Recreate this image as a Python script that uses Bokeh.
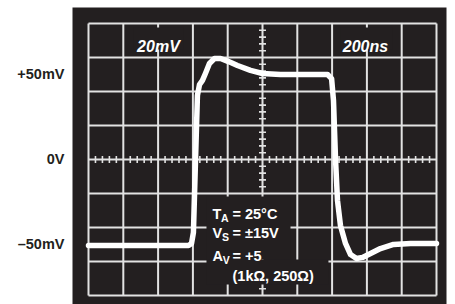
from bokeh.plotting import figure
from bokeh.models import FixedTicker
from bokeh.core.properties import value
from bokeh.embed import file_html
from bokeh.resources import INLINE
import math

# ---- data (time in ns, amplitude in mV) ----
t_ns = [0, 575, 592, 603, 615, 626, 638, 655, 672, 695, 724, 759, 805, 856,
        931, 1000, 1103, 1374, 1397, 1408, 1420, 1431, 1448, 1477, 1506, 1540,
        1575, 1621, 1678, 1753, 1851, 2000]
v_mv = [-50.6, -50.6, -49.4, -42.9, -0.6, 37.6, 44.1, 46.5, 50.6, 56.5, 59.4,
        59.4, 57.6, 55.3, 52.4, 50.6, 50.0, 50.0, 47.6, 34.7, -0.6, -24.1,
        -38.8, -49.4, -55.9, -58.2, -57.6, -55.3, -52.4, -50.0, -49.4, -49.4]

x_div = [0, 200, 400, 600, 800, 1000, 1200, 1400, 1600, 1800, 2000]
y_div = [-80, -60, -40, -20, 0, 20, 40, 60, 80]
y_ticks = [50, 0, -50]
y_tick_labels = {50: "+50mV", 0: "0V", -50: "\u201350mV"}
volts_label = "20mV"
time_label = "200ns"
cond_lines = [("T", "A", "= 25\u00b0C"), ("V", "S", "= \u00b115V"), ("A", "V", "= +5")]
cond_extra = "(1k\u03a9, 250\u03a9)"

PANEL = "#231f20"
GRID = "#e2e2e2"
FONT = "Liberation Sans"

p = figure(width=447, height=304, x_range=(-92, 2057.5), y_range=(-85.3, 89.4),
           x_axis_location=None, y_axis_location="left",
           output_backend="svg", toolbar_location=None,
           min_border_left=72, min_border_right=1, min_border_top=7, min_border_bottom=0)
p.background_fill_color = PANEL
p.border_fill_color = "white"
p.outline_line_color = None
p.grid.visible = False

ax = p.yaxis[0]
ax.ticker = FixedTicker(ticks=y_ticks)
ax.major_label_overrides = y_tick_labels
ax.axis_line_color = None
ax.major_tick_line_color = None
ax.minor_tick_line_color = None
ax.major_tick_out = 0
ax.major_tick_in = 0
ax.major_label_standoff = 8
ax.major_label_text_font = FONT
ax.major_label_text_font_style = "bold"
ax.major_label_text_font_size = "14.5px"
ax.major_label_text_color = PANEL

# graticule
x0, x1 = x_div[0], x_div[-1]
y0, y1 = y_div[0], y_div[-1]
p.segment(x0=x_div, y0=[y0] * len(x_div), x1=x_div, y1=[y1] * len(x_div),
          line_color=GRID, line_width=2)
p.segment(x0=[x0] * len(y_div), y0=y_div, x1=[x1] * len(y_div), y1=y_div,
          line_color=GRID, line_width=2)

# minor ticks on the centre lines (5 per division)
xc = x_div[len(x_div) // 2]
yc = y_div[len(y_div) // 2]
hx = [x0 + i * (x1 - x0) / 50 for i in range(51) if i % 5 != 0]
vy = [y0 + i * (y1 - y0) / 40 for i in range(41) if i % 5 != 0]
p.scatter(x=hx, y=[yc] * len(hx), marker="dash", size=7, angle=math.pi / 2,
          line_color=GRID, line_width=1.6)
p.scatter(x=[xc] * len(vy), y=vy, marker="dash", size=7,
          line_color=GRID, line_width=1.6)

# trace
p.line(t_ns, v_mv, line_color="white", line_width=5.5, line_join="round", line_cap="round")

# black boxes behind the captions
p.quad(left=[258, 1448], right=[546, 1747], top=[77.6, 77.6], bottom=[64.7, 64.7],
       fill_color=PANEL, line_color=None)
p.quad(left=[678, 678], right=[1161, 1379], top=[-21.8, -58.8], bottom=[-58.8, -73.5],
       fill_color=PANEL, line_color=None)

# top captions
p.text(x=[402, 1592], y=[66.5, 66.5], text=[volts_label, time_label],
       text_color="white", text_font=value(FONT), text_font_style="bold italic",
       text_font_size="16px", text_align="center", text_baseline="alphabetic")

# conditions block
bx = 712.6
base_y = [-31.8, -43.5, -56.5]
sub_off = [8.6, 9.4, 10.2]
for (m, s, r), by, so in zip(cond_lines, base_y, sub_off):
    p.text(x=[bx], y=[by], text=[m], text_color="white", text_font=value(FONT),
           text_font_style="bold", text_font_size="14.5px", text_baseline="alphabetic")
    p.text(x=[bx], y=[by], text=[s], x_offset=so, y_offset=4, text_color="white",
           text_font=value(FONT), text_font_style="bold", text_font_size="10.5px",
           text_baseline="alphabetic")
    p.text(x=[bx], y=[by], text=[r], x_offset=20, text_color="white",
           text_font=value(FONT), text_font_style="bold", text_font_size="14.5px",
           text_baseline="alphabetic")
p.text(x=[bx], y=[-68.8], text=[cond_extra], x_offset=20, text_color="white",
       text_font=value(FONT), text_font_style="bold", text_font_size="14.5px",
       text_baseline="alphabetic")

open("out.html", "w").write(file_html(p, INLINE))
